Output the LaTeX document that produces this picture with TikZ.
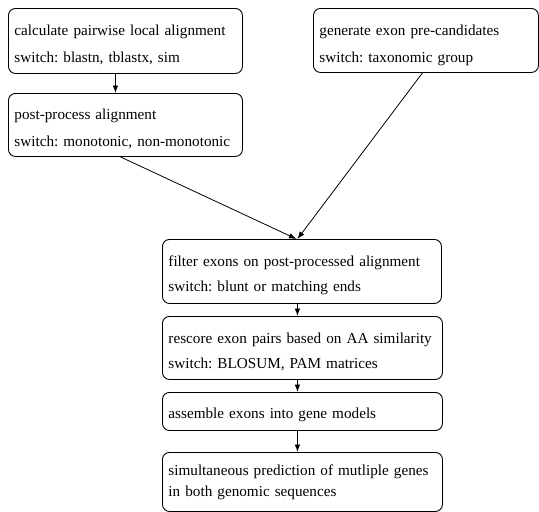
\documentclass[tikz,border=0pt]{standalone}
\usepackage{fontspec}
\setmainfont{Liberation Serif}
\usetikzlibrary{arrows.meta,calc}
\frenchspacing
\tikzset{
  box/.style={draw, line width=0.9pt, rounded corners=7pt, inner xsep=6pt, inner ysep=0pt,
    align=left, anchor=north west},
  arr/.style={line width=0.8pt, -{Latex[length=7.5pt,width=5.5pt]}},
}
\begin{document}
\begin{tikzpicture}[x=1pt,y=-1pt]
\useasboundingbox (0,0) rectangle (539,512);
\node[box, text width=222pt, text height=27pt, text depth=38pt, font=\fontsize{15.2}{27}\selectfont] (b1) at (8,8)
  {calculate pairwise local alignment\\switch: blastn, tblastx, sim};
\node[box, text width=222pt, text height=26.5pt, text depth=36.5pt, font=\fontsize{15.2}{27}\selectfont] (b2) at (8,93)
  {post-process alignment\\switch: monotonic, non-monotonic};
\node[box, text width=213pt, text height=27pt, text depth=37pt, font=\fontsize{15.2}{27}\selectfont] (b3) at (313,8)
  {generate exon pre-candidates\\switch: taxonomic group};
\node[box, text width=267pt, text height=27.5pt, text depth=36.5pt, font=\fontsize{15.2}{25}\selectfont] (b4) at (162,239)
  {filter exons on post-processed alignment\\switch: blunt or matching ends};
\node[box, text width=268pt, text height=27pt, text depth=36pt, font=\fontsize{15.2}{25}\selectfont] (b5) at (162,316)
  {rescore exon pairs based on AA similarity\\switch: BLOSUM, PAM matrices};
\node[box, text width=268pt, text height=26pt, text depth=12pt, font=\fontsize{15.2}{25}\selectfont] (b6) at (162,392)
  {assemble exons into gene models};
\node[box, text width=268pt, text height=23pt, text depth=36pt, font=\fontsize{15.2}{21.5}\selectfont] (b7) at (162,452)
  {simultaneous prediction of mutliple genes\\in both genomic sequences};
\draw[arr] ([xshift=-10pt]b1.south) -- ([xshift=-10pt]b2.north);
\draw[arr] ([xshift=-5pt]b2.south) -- ([xshift=-5.5pt]b4.north);
\draw[arr] ([xshift=-3.5pt]b3.south) -- ([xshift=-4.5pt]b4.north);
\draw[arr] ([xshift=-4.5pt]b4.south) -- ([xshift=-5pt]b5.north);
\draw[arr] ([xshift=-5pt]b5.south) -- ([xshift=-5pt]b6.north);
\draw[arr] ([xshift=-5pt]b6.south) -- ([xshift=-5pt]b7.north);
\end{tikzpicture}
\end{document}
